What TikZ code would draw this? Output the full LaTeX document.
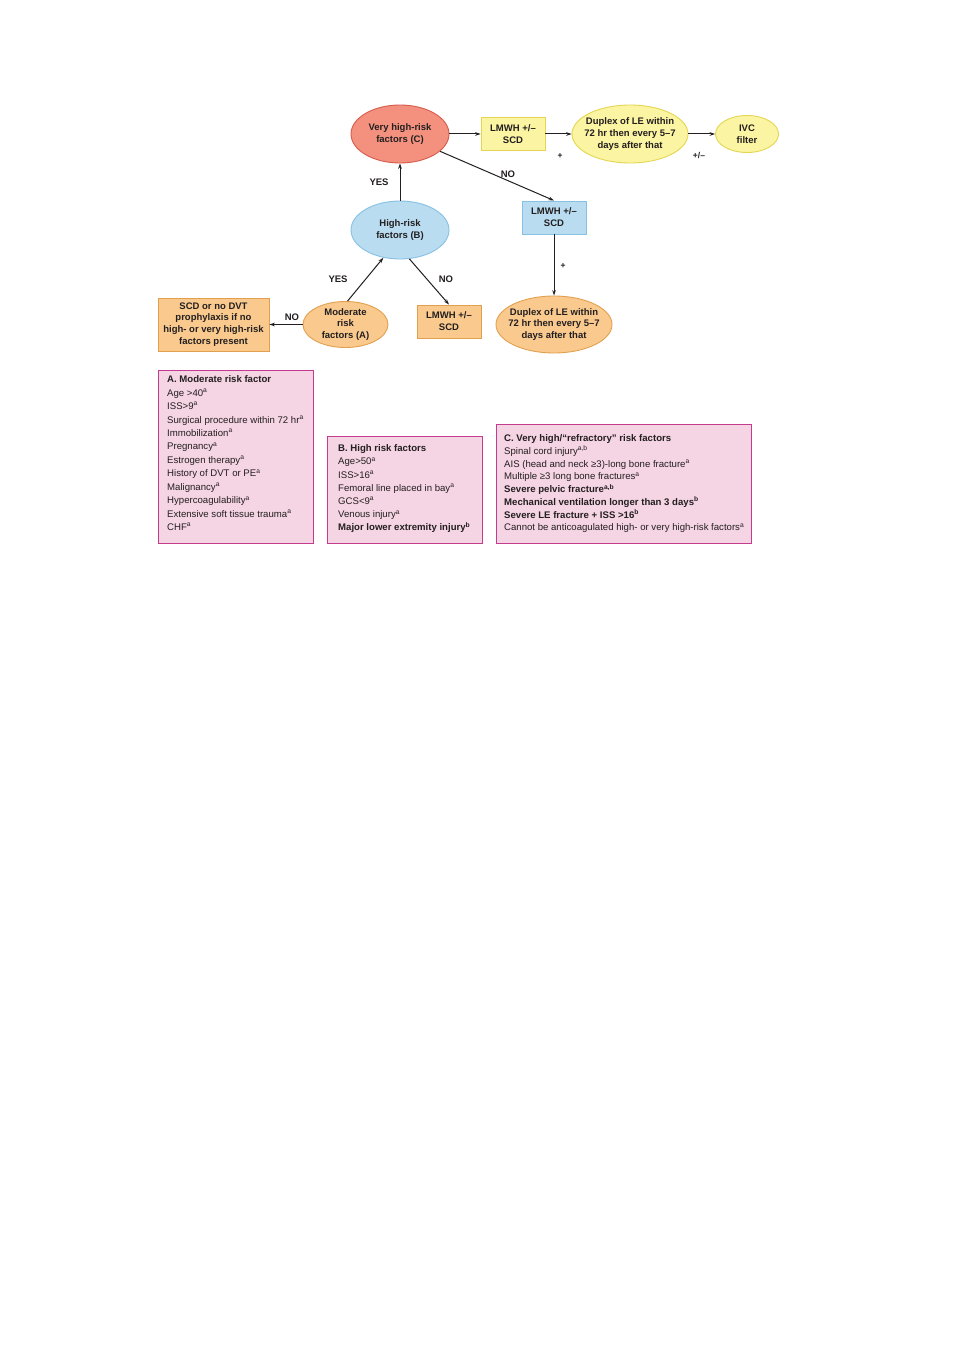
\documentclass[tikz,border=0pt]{standalone}
\usepackage{fontspec}
\setmainfont{Liberation Sans}
\usetikzlibrary{arrows.meta,shapes.geometric}
\definecolor{txt}{HTML}{231F20}
\definecolor{redfill}{HTML}{F4917E}
\definecolor{reddraw}{HTML}{D65A4C}
\definecolor{yelfill}{HTML}{FBF4A2}
\definecolor{yeldraw}{HTML}{E4D650}
\definecolor{bluefill}{HTML}{B9DCF1}
\definecolor{bluedraw}{HTML}{86C1E4}
\definecolor{orfill}{HTML}{F9C98E}
\definecolor{ordraw}{HTML}{E2A04F}
\definecolor{pinkfill}{HTML}{F5D4E3}
\definecolor{pinkdraw}{HTML}{C53B8D}
\tikzset{
  nodefont/.style={font=\fontsize{9.5bp}{11.8bp}\selectfont\bfseries, text=txt, align=center},
  ell/.style={nodefont, shape=ellipse, inner sep=-10bp, line width=0.9bp},
  rbox/.style={nodefont, shape=rectangle, inner sep=0pt, line width=0.9bp},
  redell/.style={ell, fill=redfill, draw=reddraw},
  yelell/.style={ell, fill=yelfill, draw=yeldraw},
  yelbox/.style={rbox, fill=yelfill, draw=yeldraw},
  blueell/.style={ell, fill=bluefill, draw=bluedraw},
  bluebox/.style={rbox, fill=bluefill, draw=bluedraw},
  orell/.style={ell, fill=orfill, draw=ordraw},
  orbox/.style={rbox, fill=orfill, draw=ordraw},
  pinkbox/.style={shape=rectangle, inner sep=0pt, fill=pinkfill, draw=pinkdraw, line width=0.9bp, anchor=north west},
  lbl/.style={font=\fontsize{9.5bp}{11bp}\selectfont\bfseries, text=txt, inner sep=0pt},
  smalllbl/.style={font=\fontsize{8.5bp}{10bp}\selectfont\bfseries, text=txt, inner sep=0pt},
  conn/.style={draw=txt, line width=1bp, -{Stealth[length=5.5bp,width=3.6bp]}},
  listA/.style={font=\fontsize{9.6bp}{13.45bp}\selectfont, text=txt, align=left, inner sep=0pt, anchor=north west},
  listB/.style={font=\fontsize{9.6bp}{13.2bp}\selectfont, text=txt, align=left, inner sep=0pt, anchor=north west},
  listC/.style={font=\fontsize{9.6bp}{12.75bp}\selectfont, text=txt, align=left, inner sep=0pt, anchor=north west},
}
\newcommand{\supa}{\textsuperscript{a}}
\newcommand{\supb}{\textsuperscript{b}}
\newcommand{\supab}{\textsuperscript{a,b}}
\begin{document}
\begin{tikzpicture}[x=1bp,y=-1bp]
\useasboundingbox (0,0) rectangle (953,1350);
\fill[white] (0,0) rectangle (953,1350);

% flow nodes
\node[redell, minimum width=98bp, minimum height=58bp] (vhC) at (400,134) {Very high-risk\\factors (C)};
\node[yelbox, minimum width=64bp, minimum height=33bp] (lmy) at (513,134) {LMWH +/–\\SCD};
\node[yelell, minimum width=116bp, minimum height=58bp] (dupy) at (630,134) {Duplex of LE within\\72 hr then every 5–7\\days after that};
\node[yelell, minimum width=63bp, minimum height=37bp] (ivc) at (747,134) {IVC\\filter};
\node[blueell, minimum width=98bp, minimum height=58bp] (hrB) at (400,230) {High-risk\\factors (B)};
\node[bluebox, minimum width=64bp, minimum height=33bp] (lmb) at (554,217.5) {LMWH +/–\\SCD};
\node[orell, minimum width=116bp, minimum height=57bp] (dupo) at (554,324.5) {Duplex of LE within\\72 hr then every 5–7\\days after that};
\node[orell, minimum width=85bp, minimum height=46bp] (modA) at (345.5,324.5) {Moderate\\risk\\factors (A)};
\node[orbox, minimum width=64bp, minimum height=33bp] (lmo) at (449,321.5) {LMWH +/–\\SCD};
\node[orbox, minimum width=111bp, minimum height=53bp] (scd) at (213.5,324.5) {SCD or no DVT\\prophylaxis if no\\high- or very high-risk\\factors present};

% connectors
\draw[conn] (vhC.east) -- (lmy.west);
\draw[conn] (lmy.east) -- (dupy.west);
\draw[conn] (dupy.east) -- (ivc.west);
\draw[conn] (hrB.north) -- (vhC.south);
\draw[conn] (vhC) -- (lmb.north);
\draw[conn] (lmb.south) -- (dupo.north);
\draw[conn] (modA.85) -- (hrB.239);
\draw[conn] (hrB.288) -- (lmo.north);
\draw[conn] (modA.west) -- (scd.east);

% connector labels
\node[lbl] (yes1) at (379,182) {YES};
\node[lbl] (no1) at (508,174) {NO};
\node[smalllbl] (plus1) at (560,156) {+};
\node[smalllbl] (plusmin) at (699,156) {+/–};
\node[smalllbl] (plus2) at (563,266) {+};
\node[lbl] (yes2) at (338,279) {YES};
\node[lbl] (no2) at (446,279.5) {NO};
\node[lbl] (no3) at (292,317) {NO};

% legend boxes
\node[pinkbox, minimum width=155bp, minimum height=173bp] (boxA) at (158,370) {};
\node[pinkbox, minimum width=155bp, minimum height=107bp] (boxB) at (327,436) {};
\node[pinkbox, minimum width=255bp, minimum height=119bp] (boxC) at (496,424) {};

\node[listA] (textA) at (167,375.5) {\textbf{A. Moderate risk factor}\\
Age >40\supa\\
ISS>9\supa\\
Surgical procedure within 72 hr\supa\\
Immobilization\supa\\
Pregnancy\supa\\
Estrogen therapy\supa\\
History of DVT or PE\supa\\
Malignancy\supa\\
Hypercoagulability\supa\\
Extensive soft tissue trauma\supa\\
CHF\supa};

\node[listB] (textB) at (338,444.5) {\textbf{B. High risk factors}\\
Age>50\supa\\
ISS>16\supa\\
Femoral line placed in bay\supa\\
GCS<9\supa\\
Venous injury\supa\\
\textbf{Major lower extremity injury\supb}};

\node[listC] (textC) at (504,434.5) {\textbf{C. Very high/“refractory” risk factors}\\
Spinal cord injury\supab\\
AIS (head and neck ≥3)-long bone fracture\supa\\
Multiple ≥3 long bone fractures\supa\\
\textbf{Severe pelvic fracture\supab}\\
\textbf{Mechanical ventilation longer than 3 days\supb}\\
\textbf{Severe LE fracture + ISS >16\supb}\\
Cannot be anticoagulated high- or very high-risk factors\supa};
\end{tikzpicture}
\end{document}
